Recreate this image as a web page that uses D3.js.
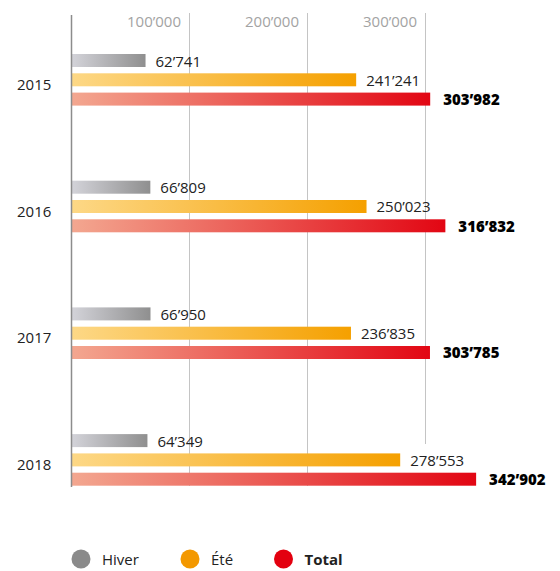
<!DOCTYPE html>
<html>
<head>
<meta charset="utf-8">
<script src="https://cdn.jsdelivr.net/npm/d3@7"></script>
<style>
  html, body { margin: 0; padding: 0; background: #fff; }
  svg { display: block; font-family: "Open Sans", sans-serif; }
</style>
</head>
<body>
<svg id="chart" width="560" height="571"></svg>
<script>
// ---- DATA ----
const years = ["2015", "2016", "2017", "2018"];
const seriesNames = ["Hiver", "Été", "Total"];
const hiver = [62741, 66809, 66950, 64349];
const ete = [241241, 250023, 236835, 278553];
const total = [303982, 316832, 303785, 342902];
const tickValues = [100000, 200000, 300000];

// ---- LAYOUT / STYLE ----
const svg = d3.select("#chart");
const fmt = d3.formatLocale({ decimal: ".", thousands: "\u2019", grouping: [3], currency: ["", ""] }).format(",d");

const x = d3.scaleLinear().domain([0, 300000]).range([71.5, 425.5]);
const yGroup = d3.scaleBand().domain(years).range([54, 54 + 4 * 126.7]).paddingInner(0);
const ySeries = d3.scaleBand().domain(seriesNames).range([0, 51.6]).paddingInner(0.3264);

const gradients = {
  "Hiver": ["#d3d3d9", "#8f8f8f"],
  "Été": ["#fdd886", "#f5a000"],
  "Total": ["#f3a790", "#e20613"]
};
const legendColors = { "Hiver": "#8a8a8a", "Été": "#f39800", "Total": "#e3000f" };

const defs = svg.append("defs");
Object.entries(gradients).forEach(([name, cols], i) => {
  const g = defs.append("linearGradient").attr("id", "grad" + i)
    .attr("x1", "0%").attr("x2", "100%").attr("y1", "0%").attr("y2", "0%");
  g.append("stop").attr("offset", "0%").attr("stop-color", cols[0]);
  g.append("stop").attr("offset", "100%").attr("stop-color", cols[1]);
});

// gridlines
const gridBottom = { 100000: 486, 200000: 486, 300000: 444 };
svg.append("g").selectAll("line").data(tickValues).join("line")
  .attr("x1", d => x(d)).attr("x2", d => x(d))
  .attr("y1", 13).attr("y2", d => gridBottom[d])
  .attr("stroke", "#c4c4c4").attr("stroke-width", 1);

// tick labels via axis
const axis = d3.axisTop(x).tickValues(tickValues).tickSize(0).tickFormat(fmt);
const axG = svg.append("g").attr("transform", "translate(0,27)").call(axis);
axG.select(".domain").remove();
axG.selectAll("text")
  .attr("text-anchor", "end").attr("dx", -9).attr("y", 0).attr("dy", 0)
  .attr("fill", "#a3a3a3").style("font-size", "15px").style("font-family", "'Open Sans', sans-serif");

// bars
const rows = [];
years.forEach((yr, i) => {
  [hiver[i], ete[i], total[i]].forEach((v, j) => rows.push({ year: yr, series: seriesNames[j], value: v, j }));
});

svg.append("g").selectAll("rect").data(rows).join("rect")
  .attr("x", x(0) + 0.5)
  .attr("y", d => yGroup(d.year) + ySeries(d.series))
  .attr("width", d => x(d.value) - x(0) - 0.5)
  .attr("height", ySeries.bandwidth())
  .attr("fill", d => "url(#grad" + d.j + ")");

// value labels
svg.append("g").selectAll("text").data(rows).join("text")
  .attr("x", d => x(d.value) + (d.series === "Total" ? 13 : 10))
  .attr("y", d => yGroup(d.year) + ySeries(d.series) + 12.5)
  .attr("fill", d => d.series === "Total" ? "#000" : "#222")
  .style("font-size", "15px")
  .style("font-weight", d => d.series === "Total" ? 800 : 400)
  .text(d => fmt(d.value));

// year labels
svg.append("g").selectAll("text").data(years).join("text")
  .attr("x", 17).attr("y", d => yGroup(d) + 36)
  .attr("fill", "#222").style("font-size", "15px")
  .text(d => d);

// vertical axis line
svg.append("line").attr("x1", 71.5).attr("x2", 71.5).attr("y1", 15).attr("y2", 487)
  .attr("stroke", "#8c8c8c").attr("stroke-width", 1.5);

// legend
const legendX = [81, 190, 283.5];
const lg = svg.append("g").selectAll("g").data(seriesNames).join("g")
  .attr("transform", (d, i) => `translate(${legendX[i]},559)`);
lg.append("circle").attr("r", 9.5).attr("fill", d => legendColors[d]);
lg.append("text").attr("x", 21).attr("y", 5.5)
  .attr("fill", "#222").style("font-size", "15px")
  .style("font-weight", d => d === "Total" ? 700 : 400)
  .text(d => d);
</script>
</body>
</html>
